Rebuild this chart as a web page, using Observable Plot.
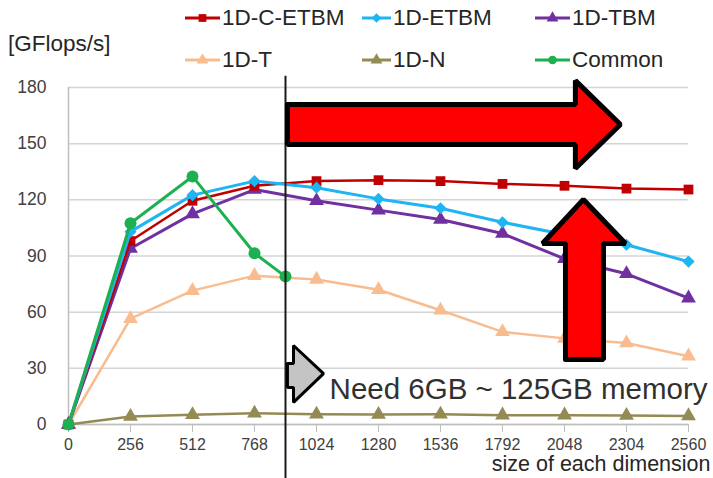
<!DOCTYPE html>
<html>
<head>
<meta charset="utf-8">
<script src="https://cdn.jsdelivr.net/npm/d3@7"></script>
<script src="https://cdn.jsdelivr.net/npm/@observablehq/plot@0.6"></script>
<style>
  html, body { margin: 0; padding: 0; background: #fff; }
  #wrap { position: relative; width: 713px; height: 478px; overflow: hidden; font-family: "Liberation Sans", Arial, sans-serif; }
  #wrap svg.plot { position: absolute; left: 0; top: 0; }
  .leg { position: absolute; display: flex; align-items: center; font-size: 22.5px; color: #262626; white-space: nowrap; }
  .leg svg { display: block; }
  .leg span { margin-left: 2px; }
  #ylab { position: absolute; left: 8px; top: 31px; font-size: 22.5px; color: #262626; }
</style>
</head>
<body>
<div id="wrap"></div>
<script>
// ---- data ----
const sizes = [0, 256, 512, 768, 1024, 1280, 1536, 1792, 2048, 2304, 2560];
const cEtbm = [0, 98, 119.5, 127.5, 130, 130.5, 130, 128.5, 127.5, 126, 125.5];
const etbm  = [0, 103, 122.5, 130, 126.5, 120.5, 115.5, 108, 101.5, 96, 87];
const tbm   = [0, 94, 112.5, 125.5, 119.5, 114.5, 109.5, 102, 88.5, 80.5, 67.5];
const oneT  = [0, 56.5, 71.5, 79.5, 77.5, 72, 61, 49.5, 46, 43.5, 36.5];
const oneN  = [0, 4.3, 5.2, 6, 5.5, 5.3, 5.5, 5, 5, 4.8, 4.6];
const commonSizes = [0, 256, 512, 768, 896];
const common = [0, 107.5, 132.5, 91.5, 79];

const xTicks = [0, 256, 512, 768, 1024, 1280, 1536, 1792, 2048, 2304, 2560];
const yTicks = [0, 30, 60, 90, 120, 150, 180];
const yLabel = "[GFlops/s]";
const xLabel = "size of each dimension";
const noteText = "Need 6GB ~ 125GB memory";

// annotations (data coordinates)
const memoryLimit = [896];
const bigArrowH = [[904,170.9],[2093,170.9],[2093,183.7],[2279,160.2],[2093,136.7],[2093,149.6],[904,149.6],[904,170.9]];
const bigArrowV = [[2052,34.7],[2052,96.7],[1957,96.7],[2126,120.2],[2300,96.7],[2209,96.7],[2209,34.7],[2052,34.7]];
const grayArrow = [[904,32.6],[929,32.6],[929,42.2],[1053,27.2],[929,11.8],[929,19.8],[904,19.8],[904,32.6]];
const notePos = [{x: 1078, y: 18.5}];

const series = [
  {name: "1D-C-ETBM", xs: sizes, ys: cEtbm, color: "#C00000", symbol: "square", r: 5.5, sw: 2.5},
  {name: "1D-ETBM",   xs: sizes, ys: etbm,  color: "#1FB4F2", symbol: "diamond2", r: 5.5, sw: 3},
  {name: "1D-TBM",    xs: sizes, ys: tbm,   color: "#7030A0", symbol: "triangle", r: 5.5, sw: 3},
  {name: "1D-T",      xs: sizes, ys: oneT,  color: "#F9BC8F", symbol: "triangle", r: 5.5, sw: 2.5},
  {name: "1D-N",      xs: sizes, ys: oneN,  color: "#948A54", symbol: "triangle", r: 5.5, sw: 2.5},
  {name: "Common",    xs: commonSizes, ys: common, color: "#1DB050", symbol: "circle", r: 6, sw: 3}
];

const drawOrder = ["1D-N", "1D-T", "1D-TBM", "1D-C-ETBM", "1D-ETBM", "Common"];

const seriesMarks = drawOrder.flatMap(nm => {
  const s = series.find(d => d.name === nm);
  const rows = s.xs.map((x, i) => ({x, y: s.ys[i]}));
  return [
    Plot.line(rows, {x: "x", y: "y", stroke: s.color, strokeWidth: s.sw}),
    Plot.dot(rows, {x: "x", y: "y", symbol: () => s.symbol, fill: s.color, stroke: "none", r: s.r})
  ];
});

const poly = (pts, fill, sw) => Plot.line(pts, {x: d => d[0], y: d => d[1], fill, stroke: "#000", strokeWidth: sw, strokeLinejoin: "miter", curve: "linear"});

const chart = Plot.plot({
  width: 713,
  height: 478,
  marginLeft: 68,
  marginRight: 25,
  marginTop: 87,
  marginBottom: 54,
  style: {fontFamily: "'Liberation Sans', Arial, sans-serif", background: "transparent", overflow: "visible"},
  x: {domain: [0, 2560], ticks: xTicks},
  y: {domain: [0, 180], ticks: yTicks},
  symbol: {type: "identity"},
  marks: [
    Plot.gridY(yTicks, {stroke: "#d4d4d4", strokeOpacity: 1, strokeWidth: 1.5}),
    Plot.ruleX([0], {y1: 0, y2: 180, stroke: "#bfbfbf", strokeWidth: 1.5}),
    Plot.ruleY([0], {stroke: "#bfbfbf", strokeWidth: 1.5}),
    Plot.axisX({ticks: xTicks, tickFormat: d => String(d), tickSize: 8, tickPadding: 6, fontSize: 16, color: "#404040", stroke: "#bfbfbf", label: null}),
    Plot.axisY({ticks: yTicks, tickFormat: d => String(d), tickSize: 0, tickPadding: 22, fontSize: 17.5, color: "#404040", label: null}),
    Plot.text([xLabel], {frameAnchor: "bottom-right", dx: 22, dy: 46, fontSize: 21.5, fill: "#262626", textAnchor: "end"}),
    ...seriesMarks,
    Plot.ruleX(memoryLimit, {y1: -30, y2: 186, stroke: "#1a1a1a", strokeWidth: 2}),
    poly(grayArrow, "#c4c4c4", 3),
    poly(bigArrowH, "#FF0000", 5),
    poly(bigArrowV, "#FF0000", 5),
    Plot.text(notePos, {x: "x", y: "y", text: () => noteText, textAnchor: "start", fontSize: 29.5, fill: "#303030"})
  ]
});
chart.classList.add("plot");
const wrap = document.getElementById("wrap");
wrap.appendChild(chart);

// y unit label
const yl = document.createElement("div");
yl.id = "ylab";
yl.textContent = yLabel;
wrap.appendChild(yl);

// legend
const legendSlots = [
  {left: 185, cy: 18, len: 35}, {left: 362, cy: 18, len: 29}, {left: 535, cy: 18, len: 35},
  {left: 185, cy: 60, len: 35}, {left: 362, cy: 60, len: 29}, {left: 535, cy: 60, len: 35}
];
const d3sym = {square: d3.symbolSquare, diamond2: d3.symbolDiamond2, triangle: d3.symbolTriangle, circle: d3.symbolCircle};
series.forEach((s, i) => {
  const slot = legendSlots[i];
  const item = document.createElement("div");
  item.className = "leg";
  item.style.left = slot.left + "px";
  item.style.top = (slot.cy - 14) + "px";
  item.style.height = "28px";
  const sv = d3.create("svg").attr("width", slot.len).attr("height", 20);
  sv.append("line").attr("x1", 0).attr("x2", slot.len).attr("y1", 10).attr("y2", 10)
    .attr("stroke", s.color).attr("stroke-width", 3);
  sv.append("path").attr("transform", `translate(${slot.len / 2},10)`)
    .attr("d", d3.symbol(d3sym[s.symbol], 60)()).attr("fill", s.color);
  item.appendChild(sv.node());
  const sp = document.createElement("span");
  sp.textContent = s.name;
  item.appendChild(sp);
  wrap.appendChild(item);
});
</script>
</body>
</html>
